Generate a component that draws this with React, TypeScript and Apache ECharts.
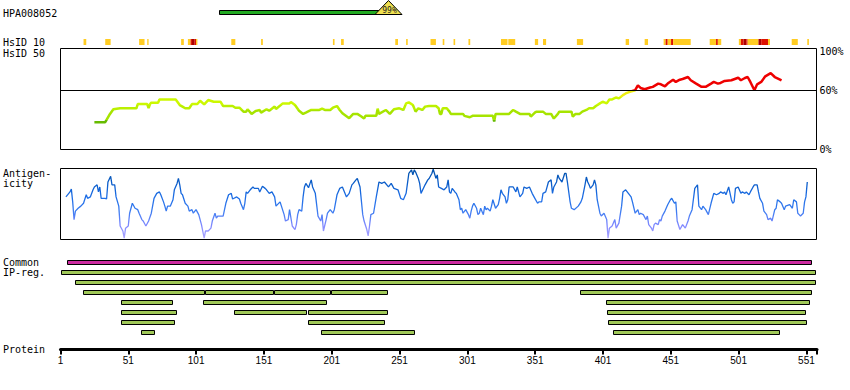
import React, { useEffect, useRef } from "react";
import * as echarts from "echarts";

const PROTEIN_END = 558.8;
const tickValues = [1, 51, 101, 151, 201, 251, 301, 351, 401, 451, 501, 551];
const antibodyName = "HPA008052";
const fragmentStart = 118;
const fragmentEnd = 243;
const fragmentIdentity = 99;

const identityResidues = [26, 34, 37, 40, 45, 57, 58, 65, 66, 67, 68, 73, 74, 86, 89, 91, 93, 96, 98, 102, 104, 107, 110, 114, 119, 121, 128, 130, 133, 136, 138, 139, 142, 145, 148, 149, 153, 155, 159, 160, 165, 170, 171, 174, 177, 180, 182, 186, 192, 194, 196, 200, 202, 205, 207, 209, 214, 217, 220, 223, 225, 226, 234, 235, 236, 241, 244, 247, 251, 254, 256, 258, 261, 263, 265, 268, 270, 273, 278, 280, 281, 282, 283, 286, 288, 289, 298, 299, 303, 305, 320, 321, 322, 332, 335, 337, 340, 347, 348, 351, 352, 357, 359, 363, 365, 368, 369, 378, 379, 381, 384, 386, 389, 391, 394, 396, 399, 401, 404, 406, 408, 411, 413, 416, 418, 421, 423, 425, 427, 429, 432, 436, 438, 442, 444, 447, 449, 453, 455, 458, 460, 464, 466, 470, 474, 477, 481, 483, 486, 488, 491, 496, 501, 503, 506, 508, 510, 513, 515, 518, 521, 525, 528, 530, 533];
const identityValues = [27.8, 27.8, 35, 40.9, 41.9, 41.9, 46.2, 46.2, 42, 46.2, 47.6, 47.6, 50.9, 50.9, 45.2, 43.6, 41.9, 41.9, 46.2, 46.2, 49.6, 45.9, 50.3, 48.6, 48.6, 44.2, 44.2, 42.5, 42.5, 38.5, 38.5, 40.9, 36.2, 39.2, 40.2, 37.5, 40.9, 39.5, 43.6, 41.2, 46.9, 46.9, 48.2, 45.2, 39.5, 36.2, 37.5, 40.2, 40.2, 41.5, 40.2, 40.2, 42.5, 44.2, 40.2, 36.9, 31.8, 36.2, 36.2, 33.5, 31.5, 34.2, 34.2, 41.5, 36.2, 40.2, 36.2, 40.9, 41.9, 40.2, 46.9, 47.9, 45.2, 38.5, 41.9, 40.2, 43.6, 44.2, 44.2, 41.9, 36.2, 36.2, 41.9, 41.9, 38.5, 36.2, 36.2, 34.2, 32.8, 34.2, 34.2, 28.5, 36.2, 36.2, 40.2, 38.5, 36.2, 36.2, 33.5, 37.5, 38.5, 38.5, 36.2, 36.2, 31.5, 36.2, 38.5, 38.5, 33.5, 36.2, 36.2, 38.5, 40.2, 41.9, 41.9, 44.2, 46.9, 48.6, 46.9, 50.9, 50.9, 52.9, 52, 55.3, 57, 58.6, 59.5, 60.3, 65.3, 62.6, 61.3, 63, 63.7, 67, 66.3, 64.3, 67, 71, 68.7, 71, 71.7, 73.7, 70.4, 67, 63.7, 63.7, 67, 68.7, 67, 67.7, 69.7, 70.4, 73, 70.4, 72.7, 73.7, 68.7, 60.3, 66.3, 68.7, 74.4, 77.7, 73.7, 72.4, 70.4];

const antigenResidues = [5, 8, 9, 10, 11, 12, 14, 16, 18, 20, 21, 23, 25, 26, 28, 29, 30, 31, 34, 35, 36, 38, 39, 41, 42, 44, 45, 47, 48, 49, 51, 52, 54, 56, 58, 59, 61, 62, 64, 66, 68, 70, 72, 74, 75, 77, 78, 79, 80, 82, 84, 85, 87, 88, 89, 90, 91, 93, 95, 96, 98, 99, 101, 103, 105, 107, 108, 110, 112, 113, 115, 116, 117, 120, 121, 123, 125, 127, 128, 131, 133, 134, 136, 137, 138, 139, 141, 143, 144, 147, 148, 150, 152, 153, 155, 157, 159, 160, 163, 164, 166, 167, 169, 170, 172, 174, 175, 176, 177, 179, 180, 181, 182, 184, 186, 187, 189, 191, 193, 194, 195, 197, 198, 200, 202, 203, 205, 207, 209, 212, 214, 216, 217, 219, 220, 222, 224, 225, 227, 228, 229, 230, 232, 234, 236, 238, 240, 243, 245, 247, 250, 252, 254, 256, 258, 260, 261, 262, 263, 265, 266, 267, 270, 272, 273, 275, 276, 278, 279, 280, 282, 284, 286, 287, 288, 289, 290, 292, 293, 295, 296, 297, 298, 300, 302, 303, 304, 305, 306, 308, 309, 310, 311, 313, 314, 315, 316, 318, 319, 320, 322, 324, 325, 326, 327, 329, 330, 331, 332, 335, 337, 338, 340, 342, 343, 345, 347, 349, 351, 353, 354, 356, 357, 359, 361, 363, 364, 365, 367, 368, 369, 371, 373, 374, 375, 377, 378, 380, 383, 385, 386, 388, 389, 390, 391, 392, 394, 395, 396, 397, 399, 400, 402, 404, 405, 406, 408, 410, 411, 413, 415, 416, 418, 420, 422, 423, 425, 427, 428, 429, 431, 433, 434, 435, 437, 438, 439, 440, 442, 443, 444, 445, 447, 449, 451, 452, 454, 455, 456, 458, 460, 462, 464, 465, 467, 469, 471, 472, 474, 475, 477, 479, 481, 483, 485, 487, 488, 490, 491, 492, 494, 496, 497, 498, 499, 501, 503, 504, 506, 507, 509, 510, 512, 513, 515, 516, 517, 519, 520, 522, 523, 525, 526, 528, 529, 530, 532, 533, 535, 536, 539, 541, 542, 544, 545, 546, 547, 549, 550, 551, 552];
const antigenValues = [60, 67, 71, 53, 28, 40, 44, 47, 51, 63, 58, 60, 70, 74, 77, 67, 74, 58, 58, 57, 81, 89, 77, 77, 60, 47, 19, 12, 2, 16, 19, 37, 51, 44, 42, 37, 28, 26, 19, 26, 37, 58, 65, 67, 63, 53, 47, 40, 47, 47, 56, 70, 79, 86, 77, 65, 63, 51, 47, 40, 42, 37, 42, 35, 21, 2, 12, 12, 16, 26, 37, 30, 33, 33, 33, 51, 63, 65, 57, 60, 57, 51, 42, 51, 67, 65, 70, 74, 72, 72, 67, 75, 72, 70, 65, 67, 60, 47, 53, 47, 35, 26, 28, 42, 19, 14, 21, 35, 42, 40, 60, 74, 79, 73, 84, 74, 65, 33, 26, 35, 12, 28, 37, 42, 37, 42, 63, 72, 74, 60, 65, 77, 79, 84, 86, 74, 35, 26, 14, 5, 19, 35, 37, 60, 81, 79, 81, 74, 79, 72, 70, 58, 56, 65, 93, 98, 91, 98, 95, 86, 79, 65, 77, 84, 86, 93, 99, 86, 91, 74, 72, 70, 74, 84, 67, 65, 72, 67, 65, 56, 42, 44, 37, 42, 35, 30, 40, 47, 51, 44, 35, 37, 44, 35, 47, 42, 44, 40, 47, 56, 44, 49, 58, 70, 65, 60, 51, 56, 74, 74, 67, 74, 60, 65, 74, 72, 74, 65, 58, 51, 53, 53, 65, 67, 81, 84, 65, 74, 81, 91, 86, 81, 93, 93, 81, 53, 44, 42, 47, 53, 58, 77, 88, 81, 77, 72, 77, 84, 77, 56, 37, 33, 37, 28, 2, 16, 19, 28, 16, 23, 47, 67, 70, 65, 60, 53, 37, 42, 35, 37, 35, 28, 33, 21, 16, 12, 21, 23, 21, 28, 26, 33, 40, 49, 56, 58, 51, 53, 26, 14, 21, 16, 26, 33, 42, 72, 77, 47, 42, 47, 42, 35, 51, 65, 63, 65, 67, 65, 67, 63, 74, 56, 51, 53, 72, 74, 65, 67, 65, 67, 63, 67, 74, 77, 77, 67, 58, 51, 40, 35, 28, 30, 26, 42, 44, 56, 53, 51, 42, 47, 49, 44, 56, 53, 37, 35, 33, 37, 53, 60, 81];

const hsidStarts = [18, 34, 59, 65, 90, 95, 97, 98, 100, 101, 127, 149, 202, 208, 248, 256, 274, 283, 291, 302, 326, 331.4, 351, 357, 382, 418, 432, 446, 447.5, 449, 451.5, 453, 480, 484.7, 486, 501.5, 503, 505, 507, 508, 516, 518, 523, 540.5, 552];
const hsidEnds = [20, 38, 63, 66, 92, 97, 98, 100, 101, 102, 130, 150.3, 203.2, 210, 250, 257.2, 278, 284.2, 292.2, 303.3, 330.8, 336.5, 353.4, 359.3, 386.6, 420.5, 434.5, 447.5, 449, 451.5, 453, 466, 484.7, 486, 488.5, 503, 505, 507, 508, 516, 518, 523, 524.5, 545, 553.2];
const hsidLevels = [1, 1, 1, 1, 1, 1, 2, 3, 2, 1, 1, 1, 1, 1, 1, 1, 1, 1, 1, 1, 1, 1, 1, 1, 1, 1, 1, 1, 2, 1, 2, 1, 1, 2, 1, 1, 2, 3, 2, 1, 3, 2, 1, 1, 1];

const trackRows = [0, 1, 2, 3, 3, 3, 3, 3, 4, 4, 4, 5, 5, 5, 5, 6, 6, 6, 7, 7, 7];
const trackStarts = [6, 1.7, 12, 17.7, 107.4, 158.5, 200.5, 384, 45.7, 106, 403.3, 45.7, 129, 183.5, 404, 45.7, 183.5, 405, 60.4, 193, 409];
const trackEnds = [554.5, 558, 558, 107, 158, 200, 242, 555, 83, 197, 553, 86, 182.4, 242, 550, 85, 240, 551, 70, 262, 531];

const MONO = "'DejaVu Sans Mono', 'Liberation Mono', monospace";
const hsidColors = ["", "#ffcc22", "#dd1100", "#aa0000"];

export default function App() {
  const ref = useRef<HTMLDivElement>(null);
  useEffect(() => {
    document.body.style.margin = "0";
    const chart = echarts.init(ref.current!, null, { renderer: "svg" });
    const grids = [
      { left: 60.5, width: 756, top: 0, height: 16, show: false },
      { left: 60.5, width: 756, top: 39, height: 6, show: false },
      { left: 60.5, width: 756, top: 48.5, height: 101, show: true, borderColor: "#000", borderWidth: 1 },
      { left: 60.5, width: 756, top: 168.5, height: 71, show: true, borderColor: "#000", borderWidth: 1 },
      { left: 60.5, width: 756, top: 257.3, height: 80, show: false },
      { left: 60.5, width: 756.5, top: 300, height: 49.5, show: false },
    ];
    const xAxes = grids.map((_, i) => ({
      type: "value",
      gridIndex: i,
      min: 1,
      max: PROTEIN_END,
      show: i === 5,
      splitLine: { show: false },
      axisLine: { show: true, lineStyle: { color: "#000", width: 3 } },
      axisTick: { show: true, length: 5, lineStyle: { color: "#000", width: 2 }, customValues: [...tickValues, PROTEIN_END] },
      axisLabel: {
        show: true,
        customValues: tickValues,
        margin: 6,
        color: "#000",
        fontFamily: "'Liberation Sans', Arial, sans-serif",
        fontSize: 10,
      },
    }));
    const yAxes = [
      { type: "value", gridIndex: 0, min: 0, max: 16, inverse: true, show: false },
      { type: "value", gridIndex: 1, min: 0, max: 1, show: false },
      {
        type: "value",
        gridIndex: 2,
        min: 0,
        max: 102.7,
        position: "right",
        axisLine: { show: false },
        axisTick: { show: false },
        splitLine: { show: false },
        axisLabel: {
          customValues: [0, 60, 100],
          formatter: (v: number) => v + "%",
          margin: 3,
          color: "#000",
          fontFamily: MONO,
          fontSize: 10,
        },
      },
      { type: "value", gridIndex: 3, min: 0, max: 100, show: false },
      { type: "value", gridIndex: 4, min: -0.5, max: 7.5, inverse: true, show: false },
      { type: "value", gridIndex: 5, min: 0, max: 1, show: false },
    ];

    const labels: [string, number, number][] = [
      [antibodyName, 3, 13],
      ["HsID 10", 3, 42.5],
      ["HsID 50", 3, 53],
      ["Antigen-", 3, 173],
      ["icity", 3, 183.5],
      ["Common", 3, 262.5],
      ["IP-reg.", 3, 272.5],
      ["Protein", 3, 349.5],
    ];

    chart.setOption({
      animation: false,
      grid: grids,
      xAxis: xAxes,
      yAxis: yAxes,
      graphic: labels.map(([t, x, y]) => ({
        type: "text",
        x,
        y,
        style: { text: t, font: `10px ${MONO}`, fill: "#000", verticalAlign: "middle", align: "left" },
      })),
      visualMap: [
        {
          type: "piecewise",
          show: false,
          seriesIndex: 2,
          dimension: 1,
          pieces: [
            { lt: 30, color: "#66bb00" },
            { gte: 30, lt: 40, color: "#a6e400" },
            { gte: 40, lt: 45, color: "#bbf000" },
            { gte: 45, lt: 53, color: "#ccf800" },
            { gte: 53, lt: 60, color: "#eeee11" },
            { gte: 60, color: "#ee0000" },
          ],
        },
        {
          type: "continuous",
          show: false,
          seriesIndex: 4,
          dimension: 1,
          min: 0,
          max: 100,
          inRange: { color: ["#b0a8ff", "#7f88ff", "#3b7cf0", "#1e6ee6", "#0a5cc8", "#0050a8"] },
        },
      ],
      series: [
        {
          type: "custom",
          xAxisIndex: 0,
          yAxisIndex: 0,
          data: [[fragmentStart, fragmentEnd, fragmentIdentity]],
          renderItem: (params: any, api: any) => {
            const s = api.coord([api.value(0), 10]);
            const e = api.coord([api.value(1), 14.5]);
            const top = api.coord([api.value(1), 0])[1];
            const ax = e[0];
            return {
              type: "group",
              children: [
                {
                  type: "rect",
                  shape: { x: Math.round(s[0]) + 0.5, y: 10.5, width: ax - s[0], height: 4 },
                  style: { fill: "#22aa22", stroke: "#000", lineWidth: 1 },
                },
                {
                  type: "polygon",
                  shape: { points: [[ax, top + 0.5], [ax - 13.5, 14.5], [ax + 13.5, 14.5]] },
                  style: { fill: "#f0e050", stroke: "#000", lineWidth: 1 },
                },
                {
                  type: "text",
                  x: ax + 1,
                  y: 10,
                  style: {
                    text: api.value(2) + "%",
                    font: `8px ${MONO}`,
                    fill: "#222",
                    align: "center",
                    verticalAlign: "middle",
                  },
                },
              ],
            };
          },
        },
        {
          type: "custom",
          xAxisIndex: 1,
          yAxisIndex: 1,
          data: hsidStarts.map((s, i) => [s, hsidEnds[i], hsidLevels[i]]),
          renderItem: (params: any, api: any) => {
            const a = api.coord([api.value(0), 1]);
            const b = api.coord([api.value(1), 0]);
            return {
              type: "rect",
              shape: { x: a[0], y: a[1], width: Math.max(b[0] - a[0], 1.3), height: b[1] - a[1] },
              style: { fill: hsidColors[api.value(2)] },
            };
          },
        },
        {
          type: "line",
          xAxisIndex: 2,
          yAxisIndex: 2,
          data: identityResidues.map((r, i) => [r, identityValues[i]]),
          showSymbol: false,
          lineStyle: { width: 2.5 },
          z: 3,
        },
        {
          type: "line",
          xAxisIndex: 2,
          yAxisIndex: 2,
          data: [],
          markLine: {
            silent: true,
            symbol: ["none", "none"],
            label: { show: false },
            lineStyle: { color: "#000", width: 1, type: "solid" },
            data: [{ yAxis: 60 }],
          },
        },
        {
          type: "line",
          xAxisIndex: 3,
          yAxisIndex: 3,
          data: antigenResidues.map((r, i) => [r, antigenValues[i]]),
          showSymbol: false,
          lineStyle: { width: 1.3 },
        },
        {
          type: "custom",
          xAxisIndex: 4,
          yAxisIndex: 4,
          data: trackRows.map((row, i) => [trackStarts[i], trackEnds[i], row]),
          renderItem: (params: any, api: any) => {
            const a = api.coord([api.value(0), api.value(2)]);
            const b = api.coord([api.value(1), api.value(2)]);
            const y = Math.round(a[1]) - 2 + 0.5;
            return {
              type: "rect",
              shape: { x: Math.round(a[0]) + 0.5, y, width: Math.round(b[0]) - Math.round(a[0]), height: 4 },
              style: { fill: api.value(2) === 0 ? "#cc2aa0" : "#a0c858", stroke: "#000", lineWidth: 1 },
            };
          },
        },
      ],
    });
    return () => chart.dispose();
  }, []);
  return <div ref={ref} style={{ width: 850, height: 390 }} />;
}
